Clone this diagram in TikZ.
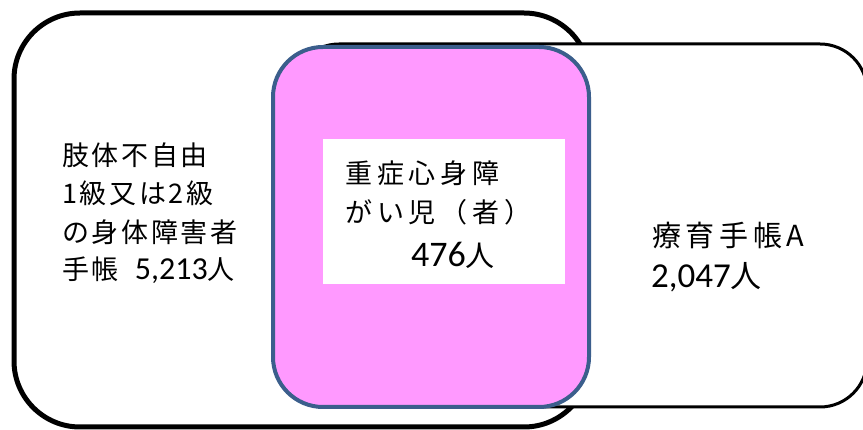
\documentclass[tikz,border=0pt]{standalone}
\usepackage{fontspec}
\setmainfont{Noto Sans CJK JP}
\newfontfamily\jpl[LetterSpace=10]{Noto Sans CJK JP}
\newfontfamily\jpc[LetterSpace=18]{Noto Sans CJK JP}
\newfontfamily\jpr[LetterSpace=16]{Noto Sans CJK JP}
\newfontfamily\jpn{Noto Sans CJK JP}
\newfontfamily\lat{Carlito}
\definecolor{magfill}{HTML}{FF99FF}
\definecolor{magedge}{HTML}{3B5E8C}
\tikzset{
  setbox/.style={draw=black, fill=white, rounded corners=#1},
  ltext/.style={anchor=west, inner sep=0pt, font=\jpl\fontsize{27}{30}\selectfont},
  ctext/.style={anchor=west, inner sep=0pt, font=\jpc\fontsize{27}{30}\selectfont},
  rtext/.style={anchor=west, inner sep=0pt, font=\jpr\fontsize{29}{32}\selectfont},
}
\begin{document}
\begin{tikzpicture}[x=1pt,y=-1pt]
\useasboundingbox (0,0) rectangle (863,430);
\path[setbox=66pt, line width=5pt] (14,13) rectangle (590,427);
\path[setbox=47pt, line width=3pt] (292,44) rectangle (867,407);
\path[draw=magedge, fill=magfill, line width=4pt, rounded corners=50pt] (273,47) rectangle (589,407);
\fill[white] (323,139) rectangle (565,284);
\node[ltext] (l1) at (62,155) {肢体不自由};
\node[ltext] (l2) at (62,193) {1級又は2級};
\node[ltext] (l3) at (62,232) {の身体障害者};
\node[ltext] (l4) at (62,270) {手帳\hspace{16pt}{\lat\fontsize{32}{34}\selectfont 5,213}{\jpn 人}};
\node[ctext] (c1) at (345,173) {重症心身障};
\node[ctext] (c2) at (345,212) {がい児（者）};
\node[ctext] (c3) at (411,255) {{\lat\fontsize{36}{38}\selectfont 476}{\jpn\fontsize{29}{32}\selectfont 人}};
\node[rtext] (r1) at (652,235) {療育手帳A};
\node[rtext] (r2) at (651,277) {{\lat\fontsize{35}{38}\selectfont 2,047}{\jpn\fontsize{31}{34}\selectfont 人}};
\end{tikzpicture}
\end{document}
